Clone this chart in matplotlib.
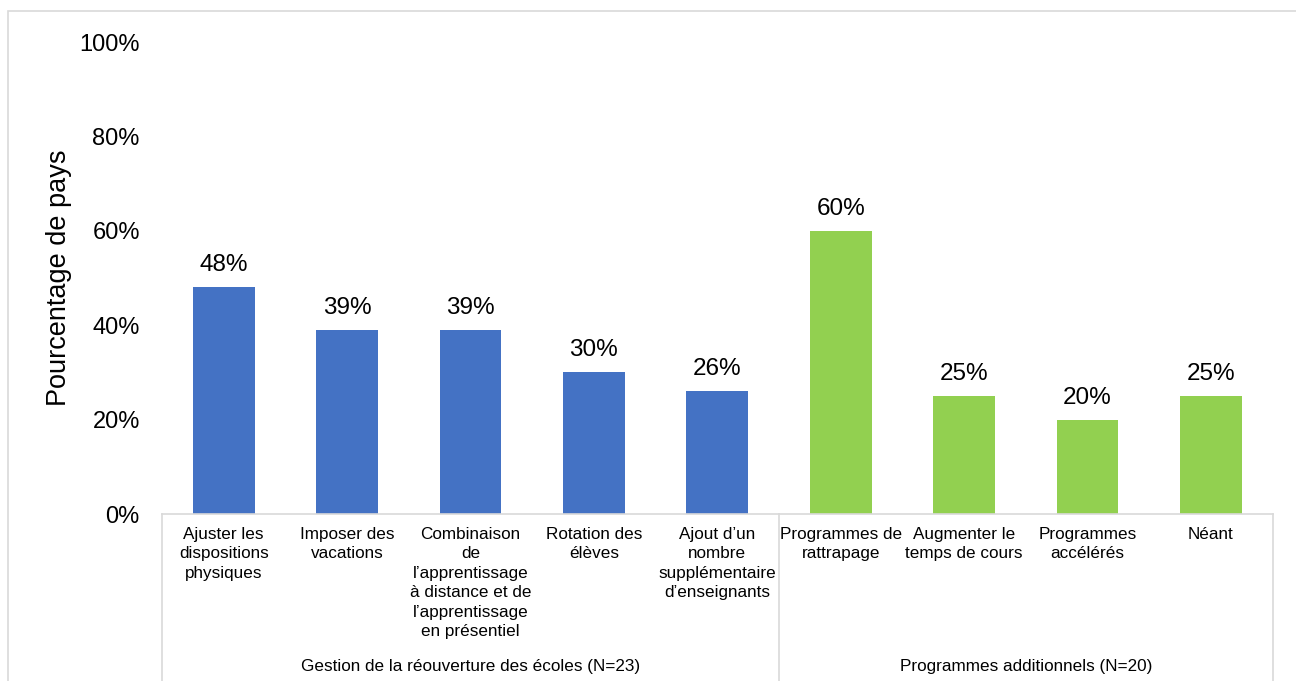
import matplotlib.pyplot as plt
from matplotlib.patches import Rectangle

plt.rcParams['font.family'] = ['Liberation Sans', 'DejaVu Sans']

categories = [
    "Ajuster les\ndispositions\nphysiques",
    "Imposer des\nvacations",
    "Combinaison\nde\nl\u2019apprentissage\n\u00e0 distance et de\nl\u2019apprentissage\nen pr\u00e9sentiel",
    "Rotation des\n\u00e9l\u00e8ves",
    "Ajout d\u2019un\nnombre\nsuppl\u00e9mentaire\nd\u2019enseignants",
    "Programmes de\nrattrapage",
    "Augmenter le\ntemps de cours",
    "Programmes\nacc\u00e9l\u00e9r\u00e9s",
    "N\u00e9ant",
]
values = [48, 39, 39, 30, 26, 60, 25, 20, 25]
groups = ["Gestion de la r\u00e9ouverture des \u00e9coles (N=23)",
          "Programmes additionnels (N=20)"]
group_sizes = [5, 4]
group_colors = ["#4472C4", "#92D050"]

fig = plt.figure(figsize=(12.96, 6.81), dpi=100)
ax = fig.add_axes([0.125, 0.2452, 0.857, 0.6931])

# figure frame
fig.patches.append(Rectangle((8 / 1296, -0.1), 1.2, 1 - 11 / 681 + 0.1,
                             transform=fig.transFigure, fill=False,
                             edgecolor="#d9d9d9", linewidth=1.2))

colors = []
for c, n in zip(group_colors, group_sizes):
    colors += [c] * n

x = list(range(len(categories)))
bars = ax.bar(x, values, width=0.5, color=colors)

for xi, v in zip(x, values):
    ax.annotate(f"{v}%", (xi, v), xytext=(0, 8), textcoords="offset points",
                ha="center", va="bottom", fontsize=17.5)

ax.set_xlim(-0.5, len(categories) - 0.5)
ax.set_ylim(0, 100)
ax.set_yticks([0, 20, 40, 60, 80, 100])
ax.set_yticklabels([f"{t}%" for t in [0, 20, 40, 60, 80, 100]], fontsize=17)
ax.tick_params(axis="y", length=0, pad=16)
ax.set_xticks(x)
ax.set_xticklabels(categories, fontsize=12.3, linespacing=1.38)
ax.tick_params(axis="x", length=0, pad=9)
ax.set_ylabel("Pourcentage de pays", fontsize=19.5, labelpad=5)

for s in ["top", "right", "left"]:
    ax.spines[s].set_visible(False)
ax.spines["bottom"].set_color("#d9d9d9")
ax.spines["bottom"].set_linewidth(1.2)

# group separators and labels
trans = ax.get_xaxis_transform()
start = -0.5
bounds = [start]
for n in group_sizes:
    bounds.append(bounds[-1] + n)
for b in bounds:
    ax.plot([b, b], [0, -0.36], transform=trans, color="#d9d9d9",
            linewidth=1.2, clip_on=False)
for g, a, b in zip(groups, bounds[:-1], bounds[1:]):
    ax.text((a + b) / 2, -0.324, g, transform=trans, ha="center",
            va="center", fontsize=12.3)

fig.savefig("out.png", dpi=100)
